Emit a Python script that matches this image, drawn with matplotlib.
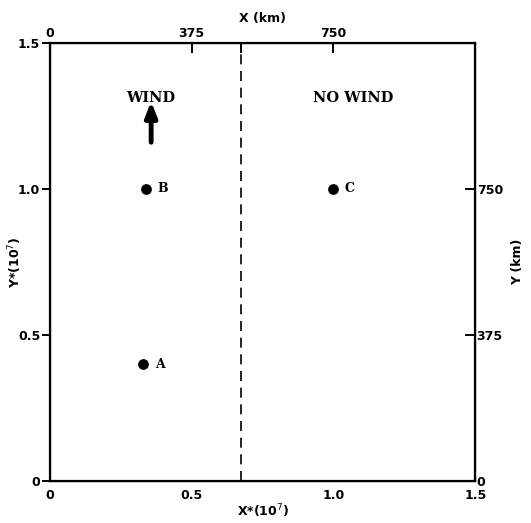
import matplotlib
matplotlib.use("Agg")
import matplotlib.pyplot as plt

# Data
point_names = ["A", "B", "C"]
point_x = [0.33, 0.34, 1.0]
point_y = [0.40, 1.0, 1.0]
boundary_x = 0.675
x_ticks = [0, 0.5, 1.0, 1.5]
x_labels = ["0", "0.5", "1.0", "1.5"]
y_ticks = [0, 0.5, 1.0, 1.5]
y_labels = ["0", "0.5", "1.0", "1.5"]
km_ticks = [0, 375, 750]
km_per_unit = 750.0
regions = [("WIND", 0.357, 1.31), ("NO WIND", 1.07, 1.31)]
wind_arrow = (0.357, 1.16, 1.30)

fig = plt.figure(figsize=(5.31, 5.23), dpi=100)
ax = fig.add_axes([0.094, 0.080, 0.801, 0.838])
ax.set_xlim(0, 1.5)
ax.set_ylim(0, 1.5)
for s in ax.spines.values():
    s.set_linewidth(1.6)

tickfont = dict(fontsize=9, fontweight="bold", family="DejaVu Sans")
ax.set_xticks(x_ticks)
ax.set_xticklabels(x_labels, **tickfont)
ax.set_yticks(y_ticks)
ax.set_yticklabels(y_labels, **tickfont)
ax.tick_params(axis="x", direction="in", length=0, pad=6)
ax.tick_params(axis="y", direction="out", length=6, width=1.4, pad=1)

# top axis (km)
axt = ax.twiny()
axt.set_xlim(0, 1.5)
axt.set_xticks([k / km_per_unit for k in km_ticks] + [boundary_x])
axt.set_xticklabels([str(k) for k in km_ticks] + [""], **tickfont)
axt.tick_params(axis="x", direction="in", length=7, width=1.4, pad=2)
axt.set_xlabel("X (km)", fontsize=9, fontweight="bold", labelpad=4)

# right axis (km)
axr = ax.twinx()
axr.set_ylim(0, 1.5)
axr.set_yticks([k / km_per_unit for k in km_ticks])
axr.set_yticklabels([str(k) for k in km_ticks], **tickfont)
axr.tick_params(axis="y", direction="in", length=7, width=1.4, pad=1)
axr.set_ylabel("Y (km)", fontsize=9, fontweight="bold", rotation=90)
axr.yaxis.set_label_coords(1.085, 0.5)

ax.set_xlabel("X*(10$^7$)", fontsize=9, fontweight="bold", labelpad=0)
ax.set_ylabel("Y*(10$^7$)", fontsize=9, fontweight="bold")
ax.yaxis.set_label_coords(-0.06, 0.5)

# boundary
ax.axvline(boundary_x, color="black", lw=1.2, ls=(0, (6, 4)))

# points
ax.scatter(point_x, point_y, s=45, color="black", zorder=3)
for n, x, y in zip(point_names, point_x, point_y):
    ax.text(x + 0.04, y, n, ha="left", va="center", fontsize=9,
            fontweight="bold", family="DejaVu Serif")

for t, x, y in regions:
    ax.text(x, y, t, ha="center", va="center",
            fontsize=10.5, fontweight="bold", family="DejaVu Serif")

ax.annotate("", xy=(wind_arrow[0], wind_arrow[2]), xytext=(wind_arrow[0], wind_arrow[1]),
            arrowprops=dict(arrowstyle="-|>,head_width=0.35,head_length=0.9",
                            lw=3.5, color="black", shrinkA=0, shrinkB=0))

fig.savefig("out.png", dpi=100)
